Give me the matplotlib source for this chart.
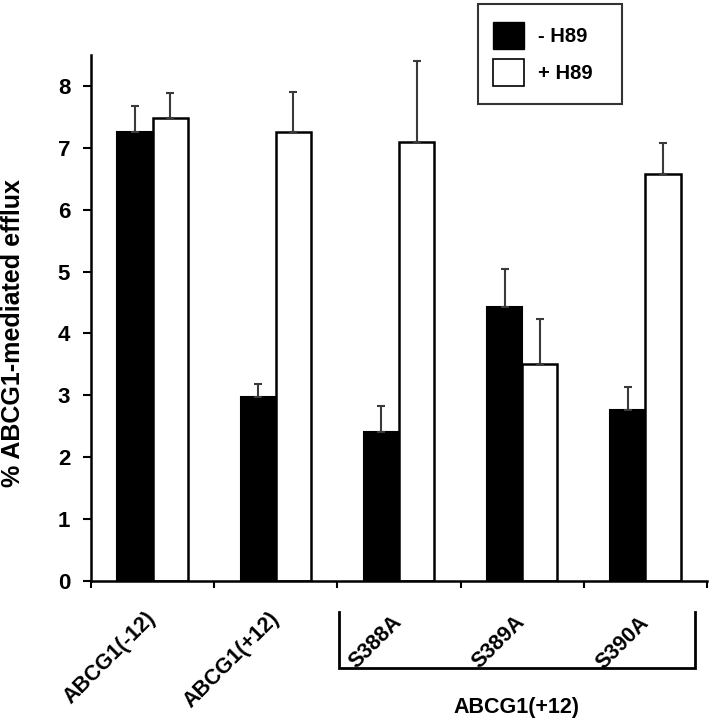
import numpy as np
import matplotlib.pyplot as plt
from matplotlib.patches import Patch, Rectangle

plt.rcParams['font.family'] = ['Liberation Sans', 'DejaVu Sans']
plt.rcParams['font.weight'] = 'bold'

# 数据
groups = ['ABCG1(-12)', 'ABCG1(+12)', 'S388A', 'S389A', 'S390A']
minus_h89 = [7.25, 2.97, 2.40, 4.42, 2.77]
minus_err = [0.43, 0.21, 0.42, 0.62, 0.37]
plus_h89 = [7.48, 7.25, 7.10, 3.50, 6.58]
plus_err = [0.40, 0.66, 1.30, 0.73, 0.50]
legend_labels = ['- H89', '+ H89']
bracket_label = 'ABCG1(+12)'
yticks = [0, 1, 2, 3, 4, 5, 6, 7, 8]

W, H = 711, 723
fig = plt.figure(figsize=(W/100, H/100), dpi=100)
ax = fig.add_axes([91/W, 1 - 581/H, (707 - 91)/W, (581 - 55)/H])

x = np.arange(len(groups))
w = 0.285
err_kw = dict(ecolor='#3a3a3a', elinewidth=1.5, capsize=3, capthick=1.5)

ax.bar(x - w/2, minus_h89, w, color='black', edgecolor='black', linewidth=1.5,
       yerr=[np.zeros(len(groups)), minus_err], error_kw=err_kw, zorder=2)
ax.bar(x + w/2, plus_h89, w, color='white', edgecolor='black', linewidth=1.8,
       yerr=[np.zeros(len(groups)), plus_err], error_kw=err_kw, zorder=2)

ax.set_xlim(-0.5, len(groups) - 0.5)
ax.set_ylim(0, 8.5)
ax.set_yticks(yticks)
ax.set_yticklabels([str(t) for t in yticks], fontsize=16, fontweight='bold')
ax.set_xticks(np.arange(len(groups) + 1) - 0.5)
ax.set_xticklabels([])
ax.tick_params(axis='y', direction='out', length=6, width=1.5, pad=9)
ax.tick_params(axis='x', direction='out', length=5, width=1.5)
for s in ['top', 'right']:
    ax.spines[s].set_visible(False)
for s in ['left', 'bottom']:
    ax.spines[s].set_linewidth(1.8)

fig.text(13/W, 1 - 333/H, '% ABCG1-mediated efflux', rotation=90,
         ha='center', va='center', fontsize=18, fontweight='bold')

# 类别标签（45度旋转）
for i, g in enumerate(groups):
    yy = -0.44 if i < 2 else -0.5
    ax.text(i + 0.06, yy, g, rotation=45, ha='right', va='top',
            fontsize=15.5, fontweight='bold', clip_on=False)

# 下方括号
bx0, bx1 = 1.5 + 0.01, len(groups) - 0.5 - 0.1
ax.plot([bx0, bx0, bx1, bx1], [-0.5, -1.4, -1.4, -0.5], color='black',
        lw=2, clip_on=False, solid_joinstyle='miter')
ax.text((bx0 + bx1)/2, -2.05, bracket_label, ha='center', va='center',
        fontsize=15.5, fontweight='bold', clip_on=False)

# 图例（边框单独画）
fig.patches.append(Rectangle((478/W, 1 - 104/H), 144/W, 100/H,
                             transform=fig.transFigure, facecolor='white',
                             edgecolor='#333333', linewidth=1.5, zorder=5))
handles = [Patch(facecolor='black', edgecolor='black'),
           Patch(facecolor='white', edgecolor='black', linewidth=1.2)]
leg = fig.legend(handles, legend_labels, loc='upper left',
                 bbox_to_anchor=(493/W, 1 - 22/H),
                 prop={'weight': 'bold', 'size': 14.5},
                 handlelength=1.55, handleheight=1.68, handletextpad=0.7,
                 borderpad=0, borderaxespad=0, labelspacing=0.5,
                 frameon=False)
leg.set_zorder(6)

plt.savefig('out.png', dpi=100)
